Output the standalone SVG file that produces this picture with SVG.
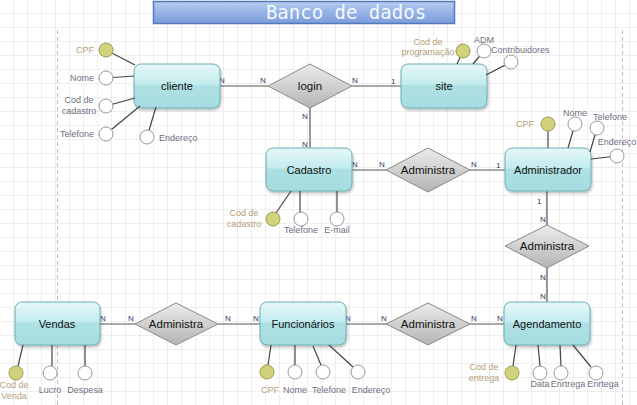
<svg xmlns="http://www.w3.org/2000/svg" width="637" height="405" viewBox="0 0 637 405">
<defs>
<pattern id="grid" width="14" height="14" patternUnits="userSpaceOnUse">
<path d="M14 0V14M0 14H14" fill="none" stroke="#dedede" stroke-width="1"/>
</pattern>
<linearGradient id="ent" x1="0" y1="0" x2="0" y2="1">
<stop offset="0" stop-color="#e6f7f8"/>
<stop offset="0.45" stop-color="#c4ecee"/>
<stop offset="0.5" stop-color="#aee0e3"/>
<stop offset="1" stop-color="#a6dde0"/>
</linearGradient>
<linearGradient id="rel" x1="0" y1="0" x2="0" y2="1">
<stop offset="0" stop-color="#ececec"/>
<stop offset="1" stop-color="#b4b4b4"/>
</linearGradient>
<linearGradient id="ttl" x1="0" y1="0" x2="0" y2="1">
<stop offset="0" stop-color="#b9cdf0"/>
<stop offset="0.5" stop-color="#95b2e6"/>
<stop offset="1" stop-color="#7c9ddc"/>
</linearGradient>
<filter id="sh" x="-10%" y="-10%" width="130%" height="140%">
<feDropShadow dx="1" dy="2" stdDeviation="1.2" flood-color="#000" flood-opacity="0.25"/>
</filter>
</defs>
<style>
.ent rect{fill:url(#ent);stroke:#6aaeb4;stroke-width:1;filter:url(#sh)}
.ent text{font-family:"Liberation Sans",Arial,sans-serif;font-size:11px;fill:#111;text-anchor:middle}
.rel polygon{fill:url(#rel);stroke:#8a8a8a;stroke-width:1}
.rel text{font-family:"Liberation Sans",Arial,sans-serif;font-size:11.5px;fill:#111;text-anchor:middle}
.att line{stroke:#444;stroke-width:1.2}
.att circle{fill:#fff;stroke:#999;stroke-width:1}
.att circle.key{fill:#d2d27a;stroke:#9a9a50}
.att text{font-family:"Liberation Sans",Arial,sans-serif;font-size:9px;fill:#6f6f82}
.att text.k{fill:#b4a078}
#connectors line{stroke:#555;stroke-width:1.2}
#connectors text{font-family:"Liberation Sans",Arial,sans-serif;font-size:8px;fill:#2a3a6a}
.pg{stroke:#bdbdbd;stroke-width:1;stroke-dasharray:4 3;fill:none}
</style>
<rect width="637" height="405" fill="#fff"/>
<rect width="637" height="405" fill="url(#grid)"/>
<path class="pg" d="M57.5 30V405M622.5 30V405"/>

<g id="title">
<rect x="153.5" y="1.5" width="301" height="22" fill="url(#ttl)" stroke="#5577bb" stroke-width="1.5"/>
<text x="346" y="19" font-family="'DejaVu Sans Mono','Liberation Mono',monospace" font-size="19" fill="#f4f8ff" text-anchor="middle">Banco de dados</text>
</g>

<g id="connectors">
<line x1="220" y1="86" x2="268" y2="86"/>
<line x1="352" y1="86" x2="401" y2="86"/>
<line x1="310" y1="108" x2="310" y2="148"/>
<line x1="352" y1="170" x2="386" y2="170"/>
<line x1="470" y1="170" x2="505" y2="170"/>
<line x1="547" y1="191" x2="547" y2="225"/>
<line x1="547" y1="268" x2="547" y2="302"/>
<line x1="100" y1="324" x2="135" y2="324"/>
<line x1="218" y1="324" x2="260" y2="324"/>
<line x1="346" y1="324" x2="386" y2="324"/>
<line x1="470" y1="324" x2="504" y2="324"/>
<text x="219" y="83">N</text>
<text x="260" y="83">N</text>
<text x="352" y="83">N</text>
<text x="391" y="84">1</text>
<text x="302" y="119">N</text>
<text x="302" y="147">N</text>
<text x="352" y="167">N</text>
<text x="379" y="167">N</text>
<text x="471" y="167">N</text>
<text x="496" y="168">1</text>
<text x="537" y="204">1</text>
<text x="540" y="222">N</text>
<text x="540" y="280">N</text>
<text x="540" y="299">N</text>
<text x="100" y="321">N</text>
<text x="128" y="321">N</text>
<text x="225" y="321">N</text>
<text x="253" y="321">N</text>
<text x="345" y="321">N</text>
<text x="381" y="321">N</text>
<text x="471" y="321">N</text>
<text x="497" y="321">N</text>
</g>

<g id="cliente" class="ent">
<rect x="134" y="64" width="86" height="44" rx="7"/>
<text x="177" y="90">cliente</text>
</g>
<g id="site" class="ent">
<rect x="401" y="64" width="86" height="44" rx="7"/>
<text x="444" y="90">site</text>
</g>
<g id="cadastro" class="ent">
<rect x="266" y="148" width="86" height="43" rx="7"/>
<text x="309" y="174">Cadastro</text>
</g>
<g id="administrador" class="ent">
<rect x="505" y="148" width="86" height="43" rx="7"/>
<text x="548" y="174">Administrador</text>
</g>
<g id="vendas" class="ent">
<rect x="15" y="302" width="85" height="43" rx="7"/>
<text x="57" y="328">Vendas</text>
</g>
<g id="funcionarios" class="ent">
<rect x="260" y="302" width="86" height="43" rx="7"/>
<text x="303" y="328">Funcionários</text>
</g>
<g id="agendamento" class="ent">
<rect x="504" y="302" width="86" height="43" rx="7"/>
<text x="547" y="328">Agendamento</text>
</g>

<g id="login" class="rel">
<polygon points="268,86 310,64 352,86 310,108"/>
<text x="310" y="90">login</text>
</g>
<g id="administra1" class="rel">
<polygon points="386,170 428,148 470,170 428,192"/>
<text x="428" y="174">Administra</text>
</g>
<g id="administra2" class="rel">
<polygon points="505,246 547,225 589,246 547,268"/>
<text x="547" y="250">Administra</text>
</g>
<g id="administra3" class="rel">
<polygon points="135,324 176,303 218,324 176,345"/>
<text x="176" y="328">Administra</text>
</g>
<g id="administra4" class="rel">
<polygon points="386,324 428,303 470,324 428,345"/>
<text x="428" y="328">Administra</text>
</g>

<g id="attr-cliente" class="att">
<line x1="106" y1="50" x2="135" y2="65"/>
<line x1="106" y1="78" x2="134" y2="76"/>
<line x1="106" y1="106" x2="135" y2="98"/>
<line x1="106" y1="134" x2="140" y2="106"/>
<line x1="147" y1="137" x2="156" y2="107"/>
<circle class="key" cx="106" cy="50" r="7"/>
<circle cx="106" cy="78" r="7"/>
<circle cx="106" cy="106" r="7"/>
<circle cx="106" cy="134" r="7"/>
<circle cx="147" cy="137" r="7"/>
<text class="k" x="94" y="53" text-anchor="end">CPF</text>
<text x="94" y="81" text-anchor="end">Nome</text>
<text x="79" y="103" text-anchor="middle">Cod de</text>
<text x="79" y="114" text-anchor="middle">cadastro</text>
<text x="94" y="137" text-anchor="end">Telefone</text>
<text x="159" y="141">Endereço</text>
</g>

<g id="attr-site" class="att">
<line x1="463" y1="51" x2="457" y2="64"/>
<line x1="484" y1="51" x2="473" y2="64"/>
<line x1="511" y1="62" x2="486" y2="75"/>
<circle class="key" cx="463" cy="51" r="7"/>
<circle cx="484" cy="51" r="7"/>
<circle cx="511" cy="62" r="7"/>
<text class="k" x="428" y="45" text-anchor="middle">Cod de</text>
<text class="k" x="428" y="55" text-anchor="middle">programação</text>
<text x="484" y="43" text-anchor="middle">ADM</text>
<text x="491" y="53">Contribuidores</text>
</g>

<g id="attr-administrador" class="att">
<line x1="548" y1="124" x2="548" y2="148"/>
<line x1="575" y1="124" x2="568" y2="148"/>
<line x1="597" y1="128" x2="590" y2="152"/>
<line x1="617" y1="156" x2="591" y2="159"/>
<circle class="key" cx="548" cy="124" r="7"/>
<circle cx="575" cy="124" r="7"/>
<circle cx="597" cy="128" r="7"/>
<circle cx="617" cy="156" r="7"/>
<text class="k" x="534" y="127" text-anchor="end">CPF</text>
<text x="575" y="116" text-anchor="middle">Nome</text>
<text x="610" y="120" text-anchor="middle">Telefone</text>
<text x="617" y="145" text-anchor="middle">Endereço</text>
</g>

<g id="attr-cadastro" class="att">
<line x1="291" y1="191" x2="276" y2="213"/>
<line x1="300" y1="191" x2="300" y2="212"/>
<line x1="337" y1="191" x2="337" y2="212"/>
<circle class="key" cx="273" cy="219" r="7"/>
<circle cx="301" cy="219" r="7"/>
<circle cx="337" cy="219" r="7"/>
<text class="k" x="244" y="216" text-anchor="middle">Cod de</text>
<text class="k" x="244" y="227" text-anchor="middle">cadastro</text>
<text x="301" y="233" text-anchor="middle">Telefone</text>
<text x="337" y="233" text-anchor="middle">E-mail</text>
</g>

<g id="attr-vendas" class="att">
<line x1="23" y1="345" x2="18" y2="366"/>
<line x1="52" y1="345" x2="52" y2="366"/>
<line x1="85" y1="345" x2="85" y2="366"/>
<circle class="key" cx="16" cy="373" r="7"/>
<circle cx="50" cy="373" r="7"/>
<circle cx="85" cy="373" r="7"/>
<text class="k" x="14" y="388" text-anchor="middle">Cod de</text>
<text class="k" x="14" y="399" text-anchor="middle">Venda</text>
<text x="50" y="393" text-anchor="middle">Lucro</text>
<text x="85" y="393" text-anchor="middle">Despesa</text>
</g>

<g id="attr-funcionarios" class="att">
<line x1="271" y1="345" x2="268" y2="365"/>
<line x1="295" y1="345" x2="295" y2="365"/>
<line x1="313" y1="346" x2="321" y2="365"/>
<line x1="329" y1="345" x2="353" y2="367"/>
<circle class="key" cx="267" cy="372" r="7"/>
<circle cx="295" cy="372" r="7"/>
<circle cx="323" cy="372" r="7"/>
<circle cx="358" cy="372" r="7"/>
<text class="k" x="270" y="393" text-anchor="middle">CPF</text>
<text x="295" y="393" text-anchor="middle">Nome</text>
<text x="329" y="393" text-anchor="middle">Telefone</text>
<text x="371" y="393" text-anchor="middle">Endereço</text>
</g>

<g id="attr-agendamento" class="att">
<line x1="516" y1="345" x2="513" y2="366"/>
<line x1="538" y1="345" x2="540" y2="366"/>
<line x1="560" y1="345" x2="561" y2="366"/>
<line x1="573" y1="345" x2="591" y2="367"/>
<circle class="key" cx="512" cy="373" r="7"/>
<circle cx="540" cy="373" r="7"/>
<circle cx="561" cy="373" r="7"/>
<circle cx="596" cy="373" r="7"/>
<text class="k" x="484" y="370" text-anchor="middle">Cod de</text>
<text class="k" x="484" y="381" text-anchor="middle">entrega</text>
<text x="540" y="387" text-anchor="middle">Data</text>
<text x="568" y="387" text-anchor="middle">Enrtrega</text>
<text x="603" y="387" text-anchor="middle">Enrtega</text>
</g>
</svg>
